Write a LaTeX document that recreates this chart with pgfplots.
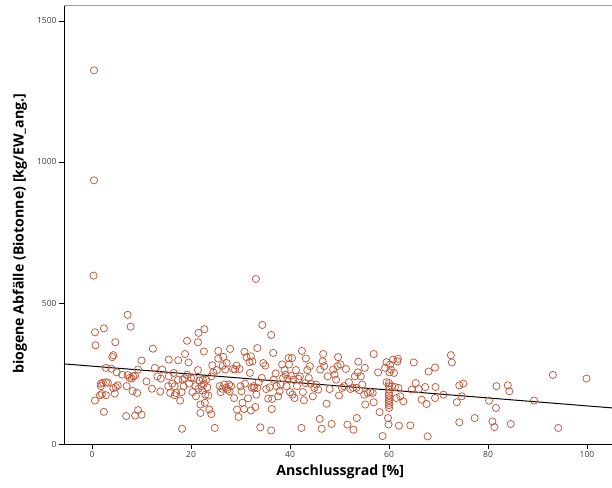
\documentclass[border=0pt]{standalone}
\usepackage{pgfplots}
\pgfplotsset{compat=1.18}
\usepackage{pgfplotstable}
\usepackage{fontspec}
\setmainfont{Open Sans}
\definecolor{ptcol}{RGB}{192,88,58}
\definecolor{tickgray}{RGB}{60,60,60}
\pgfplotstableread{
x y
0.4 1325
0.4 935
0.3 597
33.1 585
7.2 458
7.8 416
0.6 396
2.4 410
0.7 350
4.7 361
4.3 315
4.1 308
21.5 394
22.7 407
19.2 366
21.4 361
34.4 422
36.2 387
12.3 338
10.0 296
22.6 328
18.8 319
25.5 330
27.9 337
33.4 340
30.8 327
36.6 323
42.4 330
46.7 319
56.9 319
72.5 315
72.7 289
61.8 302
65.0 289
49.7 308
53.8 292
39.7 305
40.4 305
43.2 303
32.1 311
26.5 309
15.5 299
17.4 297
19.5 289
2.8 270
3.9 267
69.3 271
68.0 257
93.1 245
99.9 232
0.6 154
2.4 114
1.6 173
2.0 177
1.8 214
2.2 217
2.8 219
3.2 217
2.8 173
1.8 205
4.3 198
4.8 202
4.6 179
5.2 208
5.0 254
6.1 246
6.9 99
7.0 205
7.2 244
7.6 234
8.0 232
8.3 240
8.7 242
8.2 188
9.1 181
9.3 120
8.7 101
10.0 104
9.3 264
11.0 222
12.1 196
12.7 270
13.2 240
13.8 186
13.9 232
14.2 264
15.4 205
15.5 240
15.8 181
16.2 214
16.5 252
16.7 205
16.7 173
17.0 181
17.4 228
17.8 154
18.2 54
18.1 184
18.3 228
18.5 205
18.7 233
19.2 246
19.6 214
20.0 234
20.3 184
20.6 234
20.9 205
21.0 169
21.4 262
21.5 196
21.7 225
21.9 110
21.9 140
22.1 205
22.3 189
22.4 228
22.6 214
22.8 146
22.9 175
23.1 228
23.3 201
23.5 172
23.7 122
24.1 240
24.1 106
24.3 279
24.5 254
24.8 57
25.2 262
25.5 303
25.8 205
26.0 184
26.3 196
26.4 278
26.7 211
26.9 264
27.1 199
27.2 287
27.4 193
27.7 211
27.8 187
28.1 205
28.5 266
28.7 163
28.9 264
29.2 278
29.3 122
29.6 96
29.8 266
30.0 205
30.2 187
30.4 146
30.7 124
30.9 214
31.2 308
31.5 162
31.8 290
31.9 252
32.1 119
32.3 199
32.4 293
32.6 205
32.8 199
33.0 131
33.2 175
33.4 199
33.7 219
34.0 59
34.3 234
34.6 287
35.0 278
35.2 195
35.6 161
35.9 201
36.2 48
36.3 124
36.4 160
36.7 228
37.1 250
37.3 205
37.6 169
37.9 187
38.1 211
38.4 282
38.6 234
38.9 262
39.1 246
39.3 205
39.5 231
39.8 282
40.0 184
40.2 242
40.5 175
40.7 228
40.9 163
41.2 262
41.4 205
41.7 231
42.0 240
42.3 57
42.6 184
42.8 155
43.1 216
43.5 262
43.8 234
44.0 276
44.2 214
44.6 169
44.9 199
45.3 211
45.7 193
46.0 89
46.1 264
46.4 54
46.6 293
46.9 276
47.4 143
47.6 240
48.0 195
48.4 71
48.7 264
49.0 246
49.3 228
49.6 276
49.9 172
50.2 282
50.5 199
50.9 205
51.3 266
51.6 69
51.9 219
52.2 195
52.7 199
52.8 51
53.1 240
53.4 199
53.5 92
53.7 254
54.0 191
54.3 240
54.6 211
55.0 175
55.1 270
55.2 140
55.7 181
56.2 184
56.7 181
56.9 148
57.8 254
58.1 113
58.7 28
59.2 270
59.5 219
59.8 92
59.9 69
60.0 216
60.0 205
60.0 193
60.0 181
60.0 172
60.0 163
60.0 155
60.0 146
60.0 138
60.0 128
60.1 254
60.2 282
60.4 264
60.6 205
61.0 252
61.2 202
61.5 163
61.7 293
61.9 199
62.0 65
62.3 169
62.9 151
59.5 290
60.8 299
64.3 66
64.6 193
65.4 216
66.0 195
66.6 157
67.3 202
67.6 142
67.8 27
69.3 163
69.4 202
71.0 175
73.7 148
74.2 208
74.2 77
74.7 169
75.0 214
77.3 92
80.2 154
80.9 80
81.3 60
81.6 128
81.7 205
84.0 208
84.3 187
84.6 71
89.3 154
94.2 57
}\pts
\begin{document}
\begin{tikzpicture}
\path[use as bounding box] (-64bp,-44bp) rectangle (548bp,444bp);
\begin{axis}[
  at={(0,0)}, anchor=south west,
  scale only axis, width=548bp, height=438bp,
  xmin=-5.66, xmax=105.05, ymin=0, ymax=1553,
  axis x line*=bottom, axis y line*=left,
  axis line style={black, line width=0.9pt},
  every inner x axis line/.append style={-},
  every inner y axis line/.append style={-},
  xtick={0,20,40,60,80,100}, ytick={0,500,1000,1500},
  tick align=outside, major tick length=5bp,
  tick style={black, line width=0.7pt},
  ticklabel style={font=\fontsize{8.5}{10}\selectfont, text=tickgray},
  /pgf/number format/assume math mode=true,
  /pgf/number format/1000 sep={},
  xticklabel style={yshift=1bp},
  yticklabel style={xshift=1bp},
  clip=false,
  xlabel={Anschlussgrad [\%]},
  ylabel={biogene Abfälle (Biotonne) [kg/EW\_ang.]},
  label style={font=\bfseries\fontsize{14.2}{16}\selectfont},
  xlabel style={at={([yshift=-28bp]axis description cs:0.504,0)}, anchor=center},
  ylabel style={at={([xshift=-44bp]axis description cs:0,0.48)}, anchor=center, rotate=0},
]
\draw[gray!80, line width=1pt] (rel axis cs:0,1) -- (rel axis cs:1,1);
\addplot[only marks, mark=o, mark size=3.6bp, mark options={ptcol, line width=0.75pt}] table[x=x,y=y] {\pts};
\addplot[black, line width=1pt] coordinates {(-5.66,284) (105.05,128)};
\end{axis}
\end{tikzpicture}
\end{document}
